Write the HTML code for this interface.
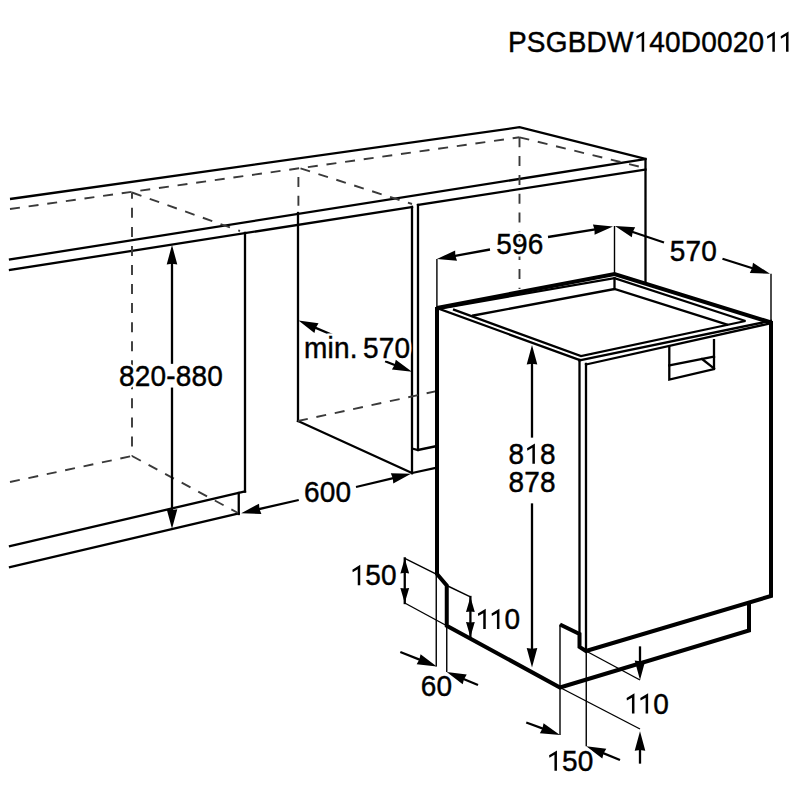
<!DOCTYPE html>
<html><head><meta charset="utf-8"><style>
html,body{margin:0;padding:0;background:#fff;width:800px;height:800px;overflow:hidden}
svg{display:block}
text{font-family:"Liberation Sans",sans-serif;fill:#000;stroke:#000;stroke-width:0.45px;letter-spacing:0.2px}
text.h{fill:#fff;stroke:#fff;stroke-width:5px}
</style></head><body>
<svg width="800" height="800" viewBox="0 0 800 800">
<rect width="800" height="800" fill="#fff"/>
<polyline points="10,199 519.5,127.2 645.5,159 645.5,282" fill="none" stroke="#000" stroke-width="2.3" stroke-linejoin="miter"/>
<line x1="10" y1="259.5" x2="645.5" y2="159" stroke="#000" stroke-width="2.3" stroke-linecap="square"/>
<line x1="10" y1="270" x2="412" y2="207" stroke="#000" stroke-width="2.3" stroke-linecap="square"/>
<line x1="418" y1="205" x2="645.5" y2="169.5" stroke="#000" stroke-width="2.3" stroke-linecap="square"/>
<line x1="245" y1="233" x2="245" y2="491.5" stroke="#000" stroke-width="2.3" stroke-linecap="square"/>
<line x1="298" y1="213" x2="298" y2="421" stroke="#000" stroke-width="2.3" stroke-linecap="square"/>
<line x1="298" y1="421" x2="412" y2="473" stroke="#000" stroke-width="2.3" stroke-linecap="square"/>
<line x1="412" y1="207" x2="412" y2="473" stroke="#000" stroke-width="2.3" stroke-linecap="square"/>
<line x1="418" y1="205" x2="418" y2="450" stroke="#000" stroke-width="2.3" stroke-linecap="square"/>
<polyline points="412,448.5 418,450 437,446" fill="none" stroke="#000" stroke-width="2.3" stroke-linejoin="miter"/>
<line x1="412" y1="473" x2="437" y2="467.5" stroke="#000" stroke-width="2.3" stroke-linecap="square"/>
<line x1="10" y1="546" x2="245" y2="491.5" stroke="#000" stroke-width="2.3" stroke-linecap="square"/>
<line x1="10" y1="567" x2="238.75" y2="513.5" stroke="#000" stroke-width="2.3" stroke-linecap="square"/>
<line x1="238.75" y1="493" x2="238.75" y2="514" stroke="#000" stroke-width="2.3" stroke-linecap="square"/>
<line x1="10" y1="209" x2="519.5" y2="137.3" stroke="#3a3a3a" stroke-width="1.9" stroke-dasharray="10 8.8" stroke-dashoffset="0"/>
<line x1="519.5" y1="137.3" x2="645" y2="168" stroke="#3a3a3a" stroke-width="1.9" stroke-dasharray="10 8.8" stroke-dashoffset="0"/>
<line x1="132" y1="192.5" x2="132" y2="456" stroke="#3a3a3a" stroke-width="1.9" stroke-dasharray="10 9.05" stroke-dashoffset="3.7"/>
<line x1="132" y1="192.5" x2="240" y2="231" stroke="#3a3a3a" stroke-width="1.9" stroke-dasharray="10 8.8" stroke-dashoffset="0"/>
<line x1="298.4" y1="168" x2="298.4" y2="211" stroke="#3a3a3a" stroke-width="1.9" stroke-dasharray="10 8.8" stroke-dashoffset="9.9"/>
<line x1="300.5" y1="168.3" x2="412" y2="204" stroke="#3a3a3a" stroke-width="1.9" stroke-dasharray="10 8.8" stroke-dashoffset="0"/>
<line x1="519.5" y1="137.3" x2="519.5" y2="289" stroke="#3a3a3a" stroke-width="1.9" stroke-dasharray="10 8.8" stroke-dashoffset="0"/>
<line x1="10" y1="482" x2="132" y2="456" stroke="#3a3a3a" stroke-width="1.9" stroke-dasharray="10 8.8" stroke-dashoffset="0"/>
<line x1="132" y1="456" x2="238" y2="513" stroke="#3a3a3a" stroke-width="1.9" stroke-dasharray="10 8.8" stroke-dashoffset="0"/>
<line x1="298" y1="421" x2="437" y2="391" stroke="#3a3a3a" stroke-width="1.9" stroke-dasharray="10 8.8" stroke-dashoffset="0"/>
<polyline points="437,308 614.5,274 771,322.5" fill="none" stroke="#000" stroke-width="4.0" stroke-linejoin="miter"/>
<polyline points="437,309 614.5,278.2 745.5,321" fill="none" stroke="#000" stroke-width="2.3" stroke-linejoin="miter"/>
<polyline points="453,309.4 581,356 745.5,321" fill="none" stroke="#000" stroke-width="2.3" stroke-linejoin="miter"/>
<polyline points="472,315.75 614.5,289 728,324.8" fill="none" stroke="#000" stroke-width="2.3" stroke-linejoin="miter"/>
<line x1="614.5" y1="278.2" x2="614.5" y2="289" stroke="#000" stroke-width="2.3" stroke-linecap="square"/>
<line x1="437" y1="308" x2="579.5" y2="360" stroke="#000" stroke-width="2.3" stroke-linecap="square"/>
<line x1="579.5" y1="360.5" x2="771" y2="320.8" stroke="#000" stroke-width="2.3" stroke-linecap="square"/>
<line x1="586" y1="364.5" x2="771" y2="323.2" stroke="#000" stroke-width="2.3" stroke-linecap="square"/>
<line x1="579.5" y1="360" x2="579.5" y2="634" stroke="#000" stroke-width="2.3" stroke-linecap="square"/>
<line x1="586" y1="364" x2="586" y2="651" stroke="#000" stroke-width="2.3" stroke-linecap="square"/>
<polyline points="437,307 437,574 446.75,585.5 446.75,625.75 560,687.5 749,630.5 749,602.5" fill="none" stroke="#000" stroke-width="4.0" stroke-linejoin="miter"/>
<polyline points="771,321 771,596 586,651 579.5,647 579.5,634 560,624.5" fill="none" stroke="#000" stroke-width="4.0" stroke-linejoin="miter"/>
<polyline points="669.3,345.5 669.3,379.5 714,369 714,339" fill="none" stroke="#000" stroke-width="2.3" stroke-linejoin="miter"/>
<line x1="669.3" y1="365.5" x2="714" y2="356.5" stroke="#000" stroke-width="2.3" stroke-linecap="square"/>
<line x1="702" y1="359" x2="714" y2="368.5" stroke="#000" stroke-width="2.3" stroke-linecap="square"/>
<line x1="172" y1="262" x2="172" y2="362.7" stroke="#000" stroke-width="2.3" stroke-linecap="square"/>
<polygon points="172.00,245.00 166.70,264.50 172.00,263.72 177.30,264.50" fill="#000"/>
<line x1="172" y1="388.7" x2="172" y2="512" stroke="#000" stroke-width="2.3" stroke-linecap="square"/>
<polygon points="172.00,528.75 177.30,509.25 172.00,510.03 166.70,509.25" fill="#000"/>
<line x1="333.1" y1="335.2" x2="309.28" y2="325.15" stroke="#000" stroke-width="2.3" stroke-linecap="butt"/>
<polygon points="298.50,320.60 314.41,333.06 315.75,327.88 318.53,323.30" fill="#000"/>
<line x1="385.1" y1="361.2" x2="401.11" y2="367.51" stroke="#000" stroke-width="2.3" stroke-linecap="butt"/>
<polygon points="412.00,371.80 395.80,359.72 394.58,364.94 391.91,369.58" fill="#000"/>
<line x1="298.75" y1="500" x2="252.6" y2="510.58" stroke="#000" stroke-width="2.3" stroke-linecap="butt"/>
<polygon points="241.20,513.20 261.39,514.01 259.45,509.01 259.02,503.67" fill="#000"/>
<line x1="356" y1="487" x2="399.62" y2="476.53" stroke="#000" stroke-width="2.3" stroke-linecap="butt"/>
<polygon points="411.00,473.80 390.80,473.20 392.80,478.17 393.28,483.50" fill="#000"/>
<line x1="490" y1="249.5" x2="448.41" y2="257.02" stroke="#000" stroke-width="2.3" stroke-linecap="butt"/>
<polygon points="436.90,259.10 457.03,260.85 455.32,255.77 455.15,250.42" fill="#000"/>
<line x1="548" y1="237" x2="601.45" y2="228.37" stroke="#000" stroke-width="2.3" stroke-linecap="butt"/>
<polygon points="613.00,226.50 592.90,224.38 594.52,229.49 594.59,234.84" fill="#000"/>
<line x1="664" y1="242.5" x2="626.09" y2="229.73" stroke="#000" stroke-width="2.3" stroke-linecap="butt"/>
<polygon points="615.00,226.00 631.79,237.25 632.74,231.97 635.17,227.20" fill="#000"/>
<line x1="722.5" y1="258.75" x2="758.84" y2="270.23" stroke="#000" stroke-width="2.3" stroke-linecap="butt"/>
<polygon points="770.00,273.75 753.00,262.82 752.15,268.11 749.81,272.93" fill="#000"/>
<line x1="436.9" y1="259" x2="436.9" y2="307" stroke="#000" stroke-width="1.4" stroke-linecap="butt"/>
<line x1="614.5" y1="226" x2="614.5" y2="274" stroke="#000" stroke-width="1.4" stroke-linecap="butt"/>
<line x1="771" y1="273.75" x2="771" y2="321" stroke="#000" stroke-width="1.4" stroke-linecap="butt"/>
<line x1="532" y1="360" x2="532" y2="436.5" stroke="#000" stroke-width="2.3" stroke-linecap="square"/>
<polygon points="532.00,345.00 526.70,364.50 532.00,363.72 537.30,364.50" fill="#000"/>
<line x1="532" y1="504.5" x2="532" y2="650" stroke="#000" stroke-width="2.3" stroke-linecap="square"/>
<polygon points="532.00,667.50 537.30,648.00 532.00,648.78 526.70,648.00" fill="#000"/>
<line x1="404.75" y1="558.4" x2="404.75" y2="603" stroke="#000" stroke-width="2.3" stroke-linecap="square"/>
<polygon points="404.75,558.40 400.35,573.40 404.75,572.80 409.15,573.40" fill="#000"/>
<polygon points="404.75,603.00 409.15,588.00 404.75,588.60 400.35,588.00" fill="#000"/>
<line x1="404.75" y1="558.4" x2="436.25" y2="574.1" stroke="#000" stroke-width="1.4" stroke-linecap="butt"/>
<line x1="446.75" y1="585.5" x2="470.4" y2="596.9" stroke="#000" stroke-width="1.4" stroke-linecap="butt"/>
<line x1="404.75" y1="603" x2="446.75" y2="625.75" stroke="#000" stroke-width="1.4" stroke-linecap="butt"/>
<line x1="470.4" y1="597" x2="470.4" y2="637" stroke="#000" stroke-width="2.3" stroke-linecap="square"/>
<polygon points="470.40,597.00 466.00,612.00 470.40,611.40 474.80,612.00" fill="#000"/>
<polygon points="470.40,637.00 474.80,622.00 470.40,622.60 466.00,622.00" fill="#000"/>
<line x1="436.25" y1="574" x2="436.25" y2="666.45" stroke="#000" stroke-width="1.4" stroke-linecap="butt"/>
<line x1="446.75" y1="625.75" x2="446.75" y2="672" stroke="#000" stroke-width="1.4" stroke-linecap="butt"/>
<line x1="400.3" y1="652" x2="425.87" y2="662.14" stroke="#000" stroke-width="2.3" stroke-linecap="butt"/>
<polygon points="436.75,666.45 420.58,654.34 419.35,659.55 416.67,664.19" fill="#000"/>
<line x1="478" y1="685" x2="457.51" y2="676.49" stroke="#000" stroke-width="2.3" stroke-linecap="butt"/>
<polygon points="446.70,672.00 462.68,684.37 463.99,679.18 466.74,674.58" fill="#000"/>
<line x1="560" y1="624.5" x2="560" y2="735" stroke="#000" stroke-width="1.4" stroke-linecap="butt"/>
<line x1="586.25" y1="651" x2="586.25" y2="746.25" stroke="#000" stroke-width="1.4" stroke-linecap="butt"/>
<line x1="586" y1="651" x2="640" y2="680" stroke="#000" stroke-width="1.4" stroke-linecap="butt"/>
<line x1="560" y1="687.5" x2="640" y2="729" stroke="#000" stroke-width="1.4" stroke-linecap="butt"/>
<line x1="640" y1="647.5" x2="640" y2="665" stroke="#000" stroke-width="2.3" stroke-linecap="square"/>
<polygon points="640.00,680.00 645.30,660.50 640.00,661.28 634.70,660.50" fill="#000"/>
<line x1="526.25" y1="722.5" x2="549.03" y2="730.94" stroke="#000" stroke-width="2.3" stroke-linecap="butt"/>
<polygon points="560.00,735.00 543.55,723.26 542.45,728.50 539.87,733.20" fill="#000"/>
<line x1="620" y1="760" x2="597.09" y2="750.66" stroke="#000" stroke-width="2.3" stroke-linecap="butt"/>
<polygon points="586.25,746.25 602.31,758.52 603.59,753.31 606.31,748.70" fill="#000"/>
<line x1="640" y1="745" x2="640" y2="762.5" stroke="#000" stroke-width="2.3" stroke-linecap="square"/>
<polygon points="640.00,731.25 634.70,750.75 640.00,749.97 645.30,750.75" fill="#000"/>
<text class="h" transform="translate(508,51.7) scale(0.933,1)" x="0" y="0" font-size="30">PSGBDW140D002011</text>
<text transform="translate(508.00,51.7) scale(0.933,1)" x="0" y="0" font-size="30">P</text>
<text transform="translate(526.86,51.7) scale(0.933,1)" x="0" y="0" font-size="30">S</text>
<text transform="translate(545.71,51.7) scale(0.933,1)" x="0" y="0" font-size="30">G</text>
<text transform="translate(567.67,51.7) scale(0.933,1)" x="0" y="0" font-size="30">B</text>
<text transform="translate(586.53,51.7) scale(0.933,1)" x="0" y="0" font-size="30">D</text>
<text transform="translate(606.93,51.7) scale(0.933,1)" x="0" y="0" font-size="30">W</text>
<path d="M644.18,31.40 L636.33,36.20 L636.63,38.70 L641.68,35.80 L641.68,51.70 L644.18,51.70 Z" fill="#000"/>
<text transform="translate(649.28,51.7) scale(0.933,1)" x="0" y="0" font-size="30">4</text>
<text transform="translate(665.04,51.7) scale(0.933,1)" x="0" y="0" font-size="30">0</text>
<text transform="translate(680.79,51.7) scale(0.933,1)" x="0" y="0" font-size="30">D</text>
<text transform="translate(701.19,51.7) scale(0.933,1)" x="0" y="0" font-size="30">0</text>
<text transform="translate(716.94,51.7) scale(0.933,1)" x="0" y="0" font-size="30">0</text>
<text transform="translate(732.70,51.7) scale(0.933,1)" x="0" y="0" font-size="30">2</text>
<text transform="translate(748.45,51.7) scale(0.933,1)" x="0" y="0" font-size="30">0</text>
<path d="M774.85,31.40 L767.00,36.20 L767.30,38.70 L772.35,35.80 L772.35,51.70 L774.85,51.70 Z" fill="#000"/>
<path d="M788.53,31.40 L780.68,36.20 L780.98,38.70 L786.03,35.80 L786.03,51.70 L788.53,51.70 Z" fill="#000"/>
<text class="h" transform="translate(119,386) scale(0.933,1)" x="0" y="0" font-size="30">820-880</text>
<text transform="translate(119.00,386) scale(0.933,1)" x="0" y="0" font-size="30">8</text>
<text transform="translate(134.75,386) scale(0.933,1)" x="0" y="0" font-size="30">2</text>
<text transform="translate(150.51,386) scale(0.933,1)" x="0" y="0" font-size="30">0</text>
<text transform="translate(166.26,386) scale(0.933,1)" x="0" y="0" font-size="30">-</text>
<text transform="translate(175.77,386) scale(0.933,1)" x="0" y="0" font-size="30">8</text>
<text transform="translate(191.52,386) scale(0.933,1)" x="0" y="0" font-size="30">8</text>
<text transform="translate(207.27,386) scale(0.933,1)" x="0" y="0" font-size="30">0</text>
<text class="h" transform="translate(304,358) scale(0.933,1)" x="0" y="0" font-size="30">min.</text>
<text transform="translate(304.00,358) scale(0.933,1)" x="0" y="0" font-size="30">m</text>
<text transform="translate(327.50,358) scale(0.933,1)" x="0" y="0" font-size="30">i</text>
<text transform="translate(333.91,358) scale(0.933,1)" x="0" y="0" font-size="30">n</text>
<text transform="translate(349.66,358) scale(0.933,1)" x="0" y="0" font-size="30">.</text>
<text class="h" transform="translate(362.95,358) scale(0.933,1)" x="0" y="0" font-size="30">570</text>
<text transform="translate(362.95,358) scale(0.933,1)" x="0" y="0" font-size="30">5</text>
<text transform="translate(378.70,358) scale(0.933,1)" x="0" y="0" font-size="30">7</text>
<text transform="translate(394.46,358) scale(0.933,1)" x="0" y="0" font-size="30">0</text>
<text class="h" transform="translate(304,501.6) scale(0.933,1)" x="0" y="0" font-size="30">600</text>
<text transform="translate(304.00,501.6) scale(0.933,1)" x="0" y="0" font-size="30">6</text>
<text transform="translate(319.75,501.6) scale(0.933,1)" x="0" y="0" font-size="30">0</text>
<text transform="translate(335.51,501.6) scale(0.933,1)" x="0" y="0" font-size="30">0</text>
<text class="h" transform="translate(496.2,254) scale(0.933,1)" x="0" y="0" font-size="30">596</text>
<text transform="translate(496.20,254) scale(0.933,1)" x="0" y="0" font-size="30">5</text>
<text transform="translate(511.95,254) scale(0.933,1)" x="0" y="0" font-size="30">9</text>
<text transform="translate(527.71,254) scale(0.933,1)" x="0" y="0" font-size="30">6</text>
<text class="h" transform="translate(669.8,260.6) scale(0.933,1)" x="0" y="0" font-size="30">570</text>
<text transform="translate(669.80,260.6) scale(0.933,1)" x="0" y="0" font-size="30">5</text>
<text transform="translate(685.55,260.6) scale(0.933,1)" x="0" y="0" font-size="30">7</text>
<text transform="translate(701.31,260.6) scale(0.933,1)" x="0" y="0" font-size="30">0</text>
<text class="h" transform="translate(508.5,463.75) scale(0.933,1)" x="0" y="0" font-size="30">818</text>
<text transform="translate(508.50,463.75) scale(0.933,1)" x="0" y="0" font-size="30">8</text>
<path d="M534.90,443.45 L527.05,448.25 L527.35,450.75 L532.40,447.85 L532.40,463.75 L534.90,463.75 Z" fill="#000"/>
<text transform="translate(540.01,463.75) scale(0.933,1)" x="0" y="0" font-size="30">8</text>
<text class="h" transform="translate(508.5,492.4) scale(0.933,1)" x="0" y="0" font-size="30">878</text>
<text transform="translate(508.50,492.4) scale(0.933,1)" x="0" y="0" font-size="30">8</text>
<text transform="translate(524.25,492.4) scale(0.933,1)" x="0" y="0" font-size="30">7</text>
<text transform="translate(540.01,492.4) scale(0.933,1)" x="0" y="0" font-size="30">8</text>
<text class="h" transform="translate(349.6,585.15) scale(0.933,1)" x="0" y="0" font-size="30">150</text>
<path d="M360.25,564.85 L352.40,569.65 L352.70,572.15 L357.75,569.25 L357.75,585.15 L360.25,585.15 Z" fill="#000"/>
<text transform="translate(365.35,585.15) scale(0.933,1)" x="0" y="0" font-size="30">5</text>
<text transform="translate(381.11,585.15) scale(0.933,1)" x="0" y="0" font-size="30">0</text>
<text class="h" transform="translate(475.1,629.1) scale(0.933,1)" x="0" y="0" font-size="30">110</text>
<path d="M485.75,608.80 L477.90,613.60 L478.20,616.10 L483.25,613.20 L483.25,629.10 L485.75,629.10 Z" fill="#000"/>
<path d="M499.43,608.80 L491.58,613.60 L491.88,616.10 L496.93,613.20 L496.93,629.10 L499.43,629.10 Z" fill="#000"/>
<text transform="translate(504.53,629.1) scale(0.933,1)" x="0" y="0" font-size="30">0</text>
<text class="h" transform="translate(420.8,695.7) scale(0.933,1)" x="0" y="0" font-size="30">60</text>
<text transform="translate(420.80,695.7) scale(0.933,1)" x="0" y="0" font-size="30">6</text>
<text transform="translate(436.55,695.7) scale(0.933,1)" x="0" y="0" font-size="30">0</text>
<text class="h" transform="translate(623.8,713.55) scale(0.933,1)" x="0" y="0" font-size="30">110</text>
<path d="M634.45,693.25 L626.60,698.05 L626.90,700.55 L631.95,697.65 L631.95,713.55 L634.45,713.55 Z" fill="#000"/>
<path d="M648.13,693.25 L640.28,698.05 L640.58,700.55 L645.63,697.65 L645.63,713.55 L648.13,713.55 Z" fill="#000"/>
<text transform="translate(653.23,713.55) scale(0.933,1)" x="0" y="0" font-size="30">0</text>
<text class="h" transform="translate(546.3,770.7) scale(0.933,1)" x="0" y="0" font-size="30">150</text>
<path d="M556.95,750.40 L549.10,755.20 L549.40,757.70 L554.45,754.80 L554.45,770.70 L556.95,770.70 Z" fill="#000"/>
<text transform="translate(562.05,770.7) scale(0.933,1)" x="0" y="0" font-size="30">5</text>
<text transform="translate(577.81,770.7) scale(0.933,1)" x="0" y="0" font-size="30">0</text>
</svg></body></html>
